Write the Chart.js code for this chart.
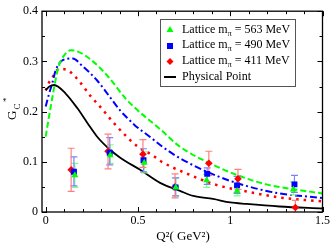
<!DOCTYPE html>
<html>
<head>
<meta charset="utf-8">
<script src="https://cdn.jsdelivr.net/npm/chart.js@4/dist/chart.umd.min.js"></script>
<style>
  html, body { margin: 0; padding: 0; background: #fff; }
  canvas { display: block; }
</style>
</head>
<body>
<canvas id="chart" width="332" height="245"></canvas>
<script>
// Кривые (Q^2 в GeV^2, G_C^*)
const green563Q = [0, 0.018, 0.036, 0.054, 0.072, 0.1, 0.135, 0.171, 0.243, 0.333, 0.431, 0.476, 0.62, 0.728, 0.889, 1.042, 1.195, 1.348, 1.5];
const green563Y = [0.15, 0.19, 0.228, 0.264, 0.292, 0.312, 0.322, 0.320, 0.304, 0.272, 0.227, 0.210, 0.165, 0.130, 0.097, 0.073, 0.055, 0.045, 0.037];

const blue490Q = [0, 0.018, 0.036, 0.054, 0.09, 0.147, 0.198, 0.279, 0.350, 0.404, 0.449, 0.485, 0.557, 0.629, 0.728, 0.934, 1.087, 1.267, 1.5];
const blue490Y = [0.21, 0.235, 0.257, 0.282, 0.302, 0.306, 0.291, 0.262, 0.228, 0.202, 0.185, 0.172, 0.152, 0.131, 0.107, 0.071, 0.052, 0.037, 0.028];

const red411Q = [0, 0.018, 0.036, 0.072, 0.117, 0.153, 0.185, 0.243, 0.306, 0.365, 0.431, 0.503, 0.584, 0.62, 0.755, 0.925, 1.114, 1.267, 1.5];
const red411Y = [0.242, 0.258, 0.268, 0.285, 0.283, 0.272, 0.259, 0.231, 0.205, 0.179, 0.153, 0.129, 0.112, 0.102, 0.078, 0.054, 0.039, 0.029, 0.021];

const physQ = [0, 0.02, 0.045, 0.108, 0.171, 0.225, 0.279, 0.34, 0.404, 0.512, 0.62, 0.728, 0.80, 0.907, 1.0, 1.087, 1.267, 1.5];
const physY = [0.243, 0.250, 0.253, 0.236, 0.207, 0.178, 0.150, 0.127, 0.108, 0.084, 0.058, 0.042, 0.032, 0.026, 0.019, 0.016, 0.011, 0.007];

// Решёточные точки с ошибками
const lat563Q = [0.158, 0.350, 0.534, 0.705, 0.872, 1.037, 1.342];
const lat563Y = [0.073, 0.113, 0.098, 0.049, 0.063, 0.042, 0.045];
const lat563Lo = [0.049, 0.097, 0.078, 0.032, 0.049, 0.032, 0.034];
const lat563Hi = [0.097, 0.134, 0.120, 0.068, 0.075, 0.052, 0.060];

const lat490Q = [0.153, 0.347, 0.530, 0.704, 0.875, 1.037, 1.348];
const lat490Y = [0.080, 0.118, 0.103, 0.049, 0.076, 0.053, 0.055];
const lat490Lo = [0.052, 0.094, 0.080, 0.032, 0.055, 0.037, 0.039];
const lat490Hi = [0.110, 0.148, 0.126, 0.068, 0.088, 0.071, 0.073];

const lat411Q = [0.138, 0.338, 0.527, 0.701, 0.884, 1.042, 1.353];
const lat411Y = [0.084, 0.121, 0.115, 0.050, 0.097, 0.066, 0.009];
const lat411Lo = [0.041, 0.086, 0.089, 0.028, 0.073, 0.045, -0.005];
const lat411Hi = [0.127, 0.155, 0.144, 0.076, 0.121, 0.085, 0.023];

const xTickValues = [0, 0.5, 1, 1.5];
const xTickLabels = ['0', '0.5', '1', '1.5'];
const yTickValues = [0, 0.1, 0.2, 0.3, 0.4];
const yTickLabels = ['0', '0.1', '0.2', '0.3', '0.4'];
const legendLabels = ['563', '490', '411'];

const FONT = '"Liberation Serif", "DejaVu Serif", serif';
const zip = (xs, ys) => xs.map((x, i) => ({ x: x, y: ys[i] }));

const errorSets = [
    { q: lat563Q, lo: lat563Lo, hi: lat563Hi, color: '#80ff80' },
    { q: lat490Q, lo: lat490Lo, hi: lat490Hi, color: '#8080ff' },
    { q: lat411Q, lo: lat411Lo, hi: lat411Hi, color: '#ff8080' }
];

// Ошибки рисуем после кривых, но до маркеров
const errorBars = {
    id: 'errorBars',
    afterDatasetDraw(chart, args) {
        if (args.index !== 3) return;
        const { ctx, chartArea: a, scales: { x, y } } = chart;
        ctx.save();
        ctx.beginPath();
        ctx.rect(a.left, a.top, a.right - a.left, a.bottom - a.top);
        ctx.clip();
        ctx.lineWidth = 1.2;
        errorSets.forEach(s => {
            ctx.strokeStyle = s.color;
            s.q.forEach((q, i) => {
                const px = x.getPixelForValue(q);
                const top = y.getPixelForValue(s.hi[i]);
                const bot = y.getPixelForValue(s.lo[i]);
                ctx.beginPath();
                ctx.moveTo(px, top); ctx.lineTo(px, bot);
                ctx.moveTo(px - 3.5, top); ctx.lineTo(px + 3.5, top);
                ctx.moveTo(px - 3.5, bot); ctx.lineTo(px + 3.5, bot);
                ctx.stroke();
            });
        });
        ctx.restore();
    }
};

// Рамка, внутренние засечки, подписи осей и легенда
const frameAndLegend = {
    id: 'frameAndLegend',
    afterDraw(chart) {
        const { ctx, chartArea: a, scales: { x, y } } = chart;
        ctx.save();
        ctx.strokeStyle = '#000';
        ctx.lineWidth = 1.3;
        ctx.strokeRect(a.left, a.top, a.right - a.left, a.bottom - a.top);

        ctx.lineWidth = 1;
        ctx.beginPath();
        for (let i = 0; i <= 15; i++) {
            const px = Math.round(x.getPixelForValue(i / 10)) + 0.5;
            const len = i % 5 === 0 ? 5 : 3;
            ctx.moveTo(px, a.bottom); ctx.lineTo(px, a.bottom - len);
            ctx.moveTo(px, a.top); ctx.lineTo(px, a.top + len);
        }
        for (let i = 0; i <= 8; i++) {
            const py = Math.round(y.getPixelForValue(i * 0.05)) + 0.5;
            const len = i % 2 === 0 ? 5 : 3;
            ctx.moveTo(a.left, py); ctx.lineTo(a.left + len, py);
            ctx.moveTo(a.right, py); ctx.lineTo(a.right - len, py);
        }
        ctx.stroke();

        // Подпись оси X
        ctx.fillStyle = '#000';
        ctx.font = '13px ' + FONT;
        ctx.textBaseline = 'alphabetic';
        ctx.textAlign = 'center';
        ctx.fillText('Q²( GeV²)', 183, 240);

        // Подпись оси Y: G_C^*
        ctx.save();
        ctx.translate(16, 120);
        ctx.rotate(-Math.PI / 2);
        ctx.textAlign = 'left';
        ctx.font = '13px ' + FONT;
        ctx.fillText('G', 0, 0);
        ctx.font = '9px ' + FONT;
        ctx.fillText('C', 10.5, 4);
        ctx.fillText('*', 18, -7);
        ctx.restore();

        // Легенда
        ctx.fillStyle = '#fff';
        ctx.fillRect(160.5, 19.5, 135, 67);
        ctx.lineWidth = 1;
        ctx.strokeStyle = '#555';
        ctx.strokeRect(160.5, 19.5, 135, 67);

        const rows = [29.5, 45, 61, 77];
        const colors = ['#00ff00', '#0000ff', '#ff0000'];
        const mx = 170;
        // треугольник
        ctx.fillStyle = colors[0];
        ctx.beginPath();
        ctx.moveTo(mx, rows[0] - 3.5); ctx.lineTo(mx + 3.5, rows[0] + 2.5); ctx.lineTo(mx - 3.5, rows[0] + 2.5);
        ctx.closePath(); ctx.fill();
        // квадрат
        ctx.fillStyle = colors[1];
        ctx.fillRect(mx - 3, rows[1] - 2, 6, 6);
        // ромб
        ctx.fillStyle = colors[2];
        ctx.beginPath();
        ctx.moveTo(mx, rows[2] - 3); ctx.lineTo(mx + 3.5, rows[2] + 0.5); ctx.lineTo(mx, rows[2] + 4); ctx.lineTo(mx - 3.5, rows[2] + 0.5);
        ctx.closePath(); ctx.fill();
        // линия
        ctx.strokeStyle = '#000';
        ctx.lineWidth = 2;
        ctx.beginPath();
        ctx.moveTo(164, rows[3]); ctx.lineTo(176, rows[3]);
        ctx.stroke();

        ctx.fillStyle = '#000';
        ctx.textAlign = 'left';
        ctx.textBaseline = 'middle';
        legendLabels.forEach((m, i) => {
            let tx = 182;
            ctx.font = '12px ' + FONT;
            ctx.fillText('Lattice m', tx, rows[i]);
            tx += ctx.measureText('Lattice m').width;
            ctx.font = '8px ' + FONT;
            ctx.fillText('π', tx, rows[i] + 4);
            tx += ctx.measureText('π').width;
            ctx.font = '12px ' + FONT;
            ctx.fillText(' = ' + m + ' MeV', tx, rows[i]);
        });
        ctx.font = '12px ' + FONT;
        ctx.fillText('Physical Point', 182, rows[3]);
        ctx.restore();
    }
};

const ctx = document.getElementById('chart').getContext('2d');
new Chart(ctx, {
    type: 'scatter',
    data: {
        datasets: [
            { label: 'Lattice 563', data: zip(lat563Q, lat563Y), pointStyle: 'triangle', pointRadius: 4, backgroundColor: '#00ff00', borderColor: '#00ff00', borderWidth: 0 },
            { label: 'Lattice 490', data: zip(lat490Q, lat490Y), pointStyle: 'rect', pointRadius: 4.2, backgroundColor: '#0000ff', borderColor: '#0000ff', borderWidth: 0 },
            { label: 'Lattice 411', data: zip(lat411Q, lat411Y), pointStyle: 'rectRot', pointRadius: 3.8, backgroundColor: '#ff0000', borderColor: '#ff0000', borderWidth: 0 },
            { label: 'Physical Point', data: zip(physQ, physY), showLine: true, pointRadius: 0, borderColor: '#000', borderWidth: 1.8, cubicInterpolationMode: 'monotone' },
            { label: '563 fit', data: zip(green563Q, green563Y), showLine: true, pointRadius: 0, borderColor: '#00ff00', borderWidth: 2, borderDash: [6, 3], cubicInterpolationMode: 'monotone' },
            { label: '490 fit', data: zip(blue490Q, blue490Y), showLine: true, pointRadius: 0, borderColor: '#0000ff', borderWidth: 2, borderDash: [7, 3, 2, 3], cubicInterpolationMode: 'monotone' },
            { label: '411 fit', data: zip(red411Q, red411Y), showLine: true, pointRadius: 0, borderColor: '#ff0000', borderWidth: 2.5, borderDash: [2.5, 5], cubicInterpolationMode: 'monotone' }
        ]
    },
    options: {
        responsive: false,
        animation: false,
        layout: { padding: { top: 5, right: 9, left: 0, bottom: 0 } },
        plugins: {
            legend: { display: false },
            tooltip: { enabled: false }
        },
        scales: {
            x: {
                type: 'linear',
                min: -0.02,
                max: 1.5,
                grid: { display: false, drawTicks: false },
                border: { display: false },
                afterFit: s => { s.height = 33; },
                afterBuildTicks: s => { s.ticks = xTickValues.map(v => ({ value: v })); },
                ticks: {
                    autoSkip: false,
                    maxRotation: 0,
                    padding: 2,
                    color: '#000',
                    font: { family: FONT, size: 12 },
                    callback: (v, i) => xTickLabels[i]
                }
            },
            y: {
                type: 'linear',
                min: 0,
                max: 0.4,
                grid: { display: false, drawTicks: false },
                border: { display: false },
                afterFit: s => { s.width = 42; },
                afterBuildTicks: s => { s.ticks = yTickValues.map(v => ({ value: v })); },
                ticks: {
                    autoSkip: false,
                    padding: 4,
                    color: '#000',
                    font: { family: FONT, size: 12 },
                    callback: (v, i) => yTickLabels[i]
                }
            }
        }
    },
    plugins: [errorBars, frameAndLegend]
});
</script>
</body>
</html>
